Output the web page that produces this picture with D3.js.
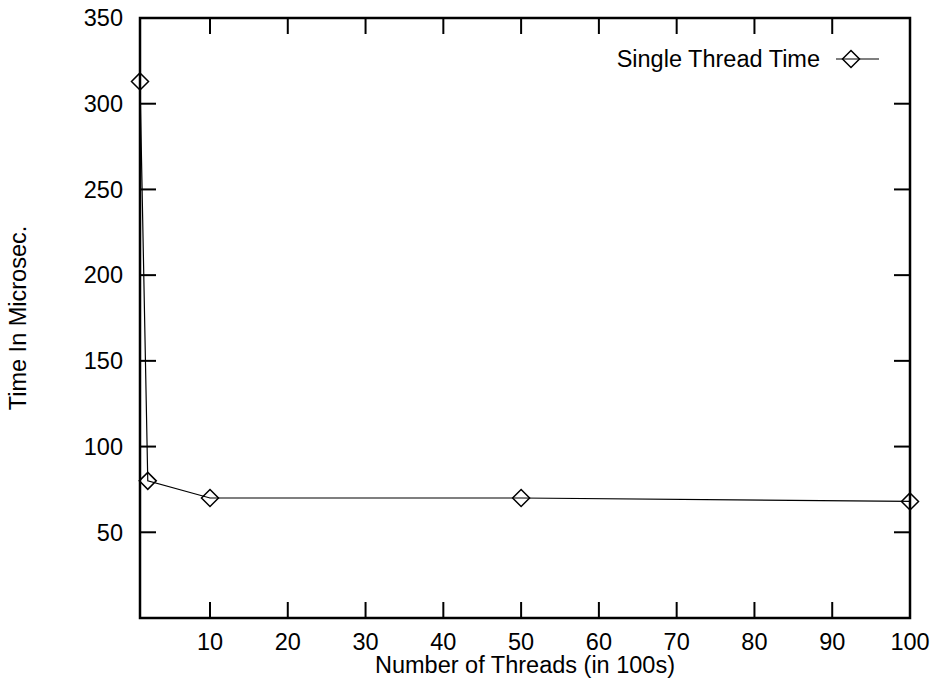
<!DOCTYPE html>
<html>
<head>
<meta charset="utf-8">
<script src="https://cdn.jsdelivr.net/npm/d3@7"></script>
<style>
  body { margin: 0; background: #fff; }
  svg { display: block; font-family: "Liberation Sans", Arial, sans-serif; }
</style>
</head>
<body>
<div class="chart"></div>
<script>
// data
var threads = [1, 2, 10, 50, 100];
var times = [313, 80, 70, 70, 68];
var xTicks = [10, 20, 30, 40, 50, 60, 70, 80, 90, 100];
var yTicks = [50, 100, 150, 200, 250, 300, 350];
var seriesName = "Single Thread Time";

var width = 932, height = 679;
var margin = {top: 18, left: 140, right: 22, bottom: 61};
var fontSize = 23.5;
var tickLen = 16;

var svg = d3.select(".chart")
    .append("svg")
    .attr("width", width)
    .attr("height", height);

var x = d3.scaleLinear().domain([1, 100]).range([margin.left, width - margin.right]);
var y = d3.scaleLinear().domain([0, 350]).range([height - margin.bottom, margin.top]);

var x0 = x.range()[0], x1 = x.range()[1];
var y0 = y.range()[0], y1 = y.range()[1];

// ticks, inward on all four sides (mirrored)
var ticks = svg.append("g").attr("stroke", "#000").attr("stroke-width", 2);
xTicks.forEach(function(t) {
    ticks.append("line").attr("x1", x(t)).attr("x2", x(t)).attr("y1", y0).attr("y2", y0 - tickLen);
    ticks.append("line").attr("x1", x(t)).attr("x2", x(t)).attr("y1", y1).attr("y2", y1 + tickLen);
});
yTicks.forEach(function(t) {
    ticks.append("line").attr("y1", y(t)).attr("y2", y(t)).attr("x1", x0).attr("x2", x0 + tickLen);
    ticks.append("line").attr("y1", y(t)).attr("y2", y(t)).attr("x1", x1).attr("x2", x1 - tickLen);
});

// tick labels
svg.append("g").selectAll("text")
    .data(xTicks)
    .enter().append("text")
    .attr("x", function(d) { return x(d); })
    .attr("y", y0 + 32)
    .attr("text-anchor", "middle")
    .attr("font-size", fontSize)
    .text(function(d) { return d; });

svg.append("g").selectAll("text")
    .data(yTicks)
    .enter().append("text")
    .attr("x", x0 - 17)
    .attr("y", function(d) { return y(d); })
    .attr("dy", "0.35em")
    .attr("text-anchor", "end")
    .attr("font-size", fontSize)
    .text(function(d) { return d; });

// axis titles
svg.append("text")
    .attr("x", (x0 + x1) / 2)
    .attr("y", y0 + 55)
    .attr("text-anchor", "middle")
    .attr("font-size", fontSize)
    .text("Number of Threads (in 100s)");

svg.append("text")
    .attr("transform", "translate(26," + ((y0 + y1) / 2) + ") rotate(-90)")
    .attr("text-anchor", "middle")
    .attr("font-size", fontSize)
    .text("Time In Microsec.");

// data line
var pts = threads.map(function(d, i) { return [d, times[i]]; });
var line = d3.line().x(function(d) { return x(d[0]); }).y(function(d) { return y(d[1]); });

svg.append("path")
    .datum(pts)
    .attr("d", line)
    .attr("fill", "none")
    .attr("stroke", "#000")
    .attr("stroke-width", 1.2);

var diamond = function(cx, cy) {
    var r = 8.5;
    return "M" + cx + "," + (cy - r) + "L" + (cx + r) + "," + cy + "L" + cx + "," + (cy + r) + "L" + (cx - r) + "," + cy + "Z";
};

svg.append("g").selectAll("path")
    .data(pts)
    .enter().append("path")
    .attr("d", function(d) { return diamond(x(d[0]), y(d[1])); })
    .attr("fill", "none")
    .attr("stroke", "#000")
    .attr("stroke-width", 1.5);

// frame
svg.append("rect")
    .attr("x", x0).attr("y", y1)
    .attr("width", x1 - x0).attr("height", y0 - y1)
    .attr("fill", "none")
    .attr("stroke", "#000")
    .attr("stroke-width", 2.5);

// legend
var legY = 59;
svg.append("text")
    .attr("x", 820)
    .attr("y", legY)
    .attr("dy", "0.35em")
    .attr("text-anchor", "end")
    .attr("font-size", fontSize)
    .text(seriesName);
svg.append("line")
    .attr("x1", 836).attr("x2", 879)
    .attr("y1", legY).attr("y2", legY)
    .attr("stroke", "#000").attr("stroke-width", 1.2);
svg.append("path")
    .attr("d", diamond(851, legY))
    .attr("fill", "none")
    .attr("stroke", "#000")
    .attr("stroke-width", 1.5);
</script>
</body>
</html>
